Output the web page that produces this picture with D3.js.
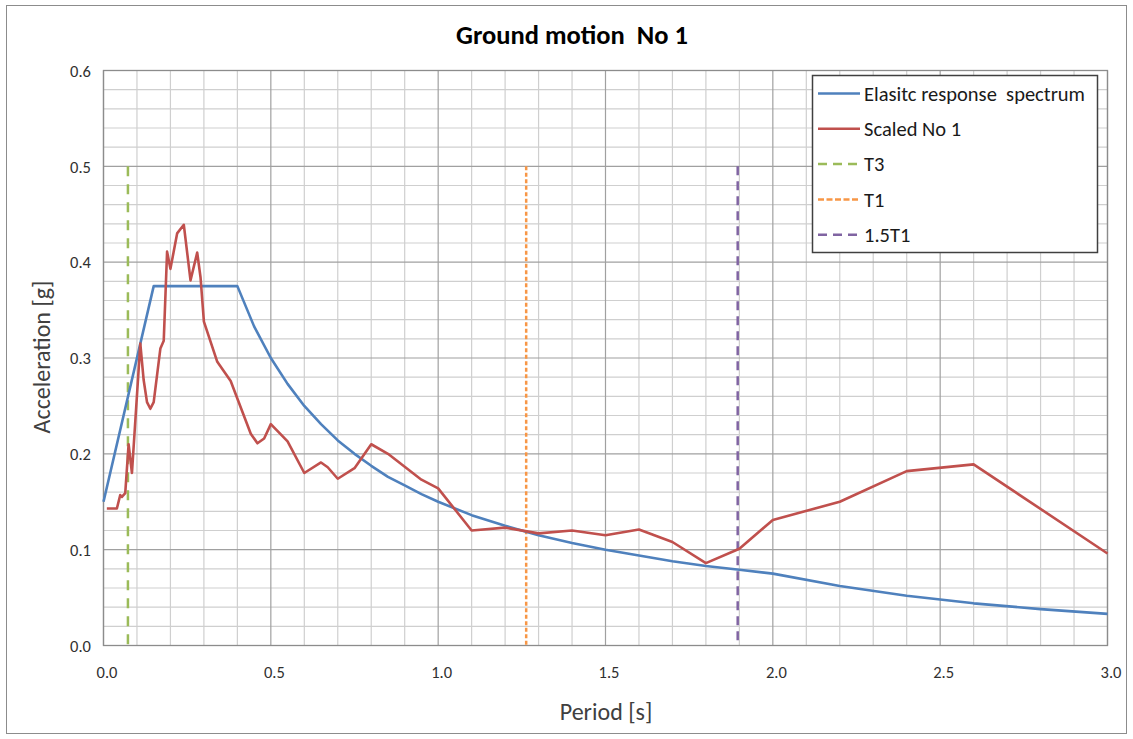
<!DOCTYPE html>
<html>
<head>
<meta charset="utf-8">
<script src="https://cdn.jsdelivr.net/npm/d3@7"></script>
<style>
  html, body { margin: 0; padding: 0; background: #fff; }
  svg { display: block; }
  text { font-family: Carlito, Calibri, Lato, sans-serif; white-space: pre; }
</style>
</head>
<body>
<svg id="chart" width="1133" height="739"></svg>
<script>
// Elastic design spectrum (period [s], acceleration [g])
const spectrumT = [0, 0.15, 0.4, 0.45, 0.5, 0.55, 0.6, 0.65, 0.7, 0.75, 0.8, 0.85, 0.9, 0.95, 1.0,
  1.1, 1.2, 1.3, 1.4, 1.5, 1.6, 1.7, 1.8, 1.9, 2.0, 2.2, 2.4, 2.6, 2.8, 3.0];
const spectrumA = [0.15, 0.375, 0.375, 0.333, 0.3, 0.273, 0.25, 0.231, 0.214, 0.2, 0.1875, 0.176, 0.167, 0.158, 0.15,
  0.136, 0.125, 0.115, 0.107, 0.1, 0.094, 0.088, 0.083, 0.079, 0.075, 0.062, 0.052, 0.044, 0.038, 0.033];

// Scaled record No 1 response spectrum
const scaledT = [0.01, 0.04, 0.05, 0.055, 0.065, 0.075, 0.085, 0.11, 0.12, 0.13, 0.14, 0.15, 0.17, 0.18,
  0.19, 0.20, 0.22, 0.24, 0.26, 0.28, 0.29, 0.30, 0.34, 0.38, 0.44, 0.46, 0.48, 0.50, 0.55, 0.60,
  0.65, 0.67, 0.70, 0.75, 0.80, 0.85, 0.95, 1.00, 1.10, 1.20, 1.30, 1.40, 1.50, 1.60, 1.70, 1.80,
  1.90, 2.00, 2.20, 2.40, 2.60, 3.00];
const scaledA = [0.143, 0.143, 0.157, 0.155, 0.159, 0.210, 0.180, 0.315, 0.277, 0.254, 0.247, 0.254, 0.310, 0.318,
  0.411, 0.393, 0.430, 0.439, 0.381, 0.410, 0.384, 0.338, 0.296, 0.276, 0.221, 0.211, 0.216, 0.231, 0.213, 0.180,
  0.191, 0.186, 0.174, 0.185, 0.210, 0.200, 0.173, 0.164, 0.120, 0.123, 0.117, 0.120, 0.115, 0.121, 0.108, 0.086,
  0.101, 0.131, 0.150, 0.182, 0.189, 0.096];

// Characteristic periods (vertical markers up to 0.5 g)
const markerNames = ["T3", "T1", "1.5T1"];
const markerT = [0.073, 1.263, 1.895];
const markerTop = 0.5;

const xTicks = [0, 0.5, 1.0, 1.5, 2.0, 2.5, 3.0];
const yTicks = [0, 0.1, 0.2, 0.3, 0.4, 0.5, 0.6];

const legendLabels = ["Elasitc response  spectrum", "Scaled No 1", "T3", "T1", "1.5T1"];

const svg = d3.select("#chart");
const plot = { left: 103.5, right: 1107.5, top: 70.5, bottom: 645.5 };

const x = d3.scaleLinear().domain([0, 3]).range([plot.left, plot.right]);
const y = d3.scaleLinear().domain([0, 0.6]).range([plot.bottom, plot.top]);

// outer chart frame
svg.append("rect")
  .attr("x", 6.5).attr("y", 5.5).attr("width", 1120).attr("height", 728)
  .attr("fill", "#fff").attr("stroke", "#8c8c8c").attr("stroke-width", 1);

// minor grid
const g = svg.append("g");
const minorX = d3.range(0, 31).map(i => i / 10).filter(v => Math.round(v * 10) % 5 !== 0);
const minorY = d3.range(0, 31).map(i => i / 50).filter(v => Math.round(v * 50) % 5 !== 0);
g.selectAll(".mx").data(minorX).join("line")
  .attr("x1", d => x(d)).attr("x2", d => x(d))
  .attr("y1", plot.top).attr("y2", plot.bottom)
  .attr("stroke", "#cfcfcf").attr("stroke-width", 1.2);
g.selectAll(".my").data(minorY).join("line")
  .attr("x1", plot.left).attr("x2", plot.right)
  .attr("y1", d => y(d)).attr("y2", d => y(d))
  .attr("stroke", "#cfcfcf").attr("stroke-width", 1.2);

// major grid
g.selectAll(".Mx").data(xTicks).join("line")
  .attr("x1", d => x(d)).attr("x2", d => x(d))
  .attr("y1", plot.top).attr("y2", plot.bottom)
  .attr("stroke", "#a0a0a0").attr("stroke-width", 1.2);
g.selectAll(".My").data(yTicks).join("line")
  .attr("x1", plot.left).attr("x2", plot.right)
  .attr("y1", d => y(d)).attr("y2", d => y(d))
  .attr("stroke", "#a0a0a0").attr("stroke-width", 1.2);

// plot frame
svg.append("rect")
  .attr("x", plot.left).attr("y", plot.top)
  .attr("width", plot.right - plot.left).attr("height", plot.bottom - plot.top)
  .attr("fill", "none").attr("stroke", "#8c8c8c").attr("stroke-width", 1.3);

// axes (labels only; grid carries the ticks)
const xAxis = d3.axisBottom(x).tickValues(xTicks).tickFormat(d3.format(".1f")).tickSize(0).tickPadding(0);
const yAxis = d3.axisLeft(y).tickValues(yTicks).tickFormat(d3.format(".1f")).tickSize(0).tickPadding(0);

const gx = svg.append("g").attr("transform", `translate(3,${plot.bottom})`).call(xAxis);
gx.select(".domain").remove();
gx.selectAll("text").attr("y", 27).attr("dy", "0.35em")
  .attr("font-size", 16.5).attr("fill", "#303030");

const gy = svg.append("g").attr("transform", `translate(91,0)`).call(yAxis);
gy.select(".domain").remove();
gy.selectAll("text").attr("x", 0).attr("dy", "0.35em")
  .attr("font-size", 16.5).attr("fill", "#303030");

// series colours and dash styles
const colors = ["#4f81bd", "#c0504d", "#9bbb59", "#f79646", "#8064a2"];
const dashes = [null, null, "10,8", "4,2.5", "9,6"];

const line = d3.line().x(d => x(d[0])).y(d => y(d[1]));

// vertical period markers
markerT.forEach((t, i) => {
  svg.append("line")
    .attr("x1", x(t)).attr("x2", x(t))
    .attr("y1", y(markerTop)).attr("y2", y(0))
    .attr("stroke", colors[i + 2]).attr("stroke-width", 2.5)
    .attr("stroke-dasharray", dashes[i + 2]);
});

svg.append("path")
  .datum(d3.zip(spectrumT, spectrumA))
  .attr("d", line)
  .attr("fill", "none").attr("stroke", colors[0]).attr("stroke-width", 2.6)
  .attr("stroke-linejoin", "round");

svg.append("path")
  .datum(d3.zip(scaledT, scaledA))
  .attr("d", line)
  .attr("fill", "none").attr("stroke", colors[1]).attr("stroke-width", 2.6)
  .attr("stroke-linejoin", "round");

// title and axis titles
svg.append("text")
  .attr("x", 572).attr("y", 44).attr("text-anchor", "middle")
  .attr("font-size", 26.5).attr("font-weight", "bold").attr("fill", "#000")
  .text("Ground motion  No 1");

svg.append("text")
  .attr("x", 606).attr("y", 720).attr("text-anchor", "middle")
  .attr("font-size", 24).attr("fill", "#404040")
  .text("Period [s]");

svg.append("text")
  .attr("transform", `translate(50,357) rotate(-90)`)
  .attr("text-anchor", "middle")
  .attr("font-size", 24).attr("fill", "#404040")
  .text("Acceleration [g]");

// legend
const lg = svg.append("g");
lg.append("rect")
  .attr("x", 812.5).attr("y", 75.5).attr("width", 285).attr("height", 177)
  .attr("fill", "#fff").attr("stroke", "#404040").attr("stroke-width", 1.5);

legendLabels.forEach((lab, i) => {
  const cy = 93.5 + i * 35.3;
  lg.append("line")
    .attr("x1", 818).attr("x2", 860).attr("y1", cy).attr("y2", cy)
    .attr("stroke", colors[i]).attr("stroke-width", 2.5)
    .attr("stroke-dasharray", i === 2 || i === 4 ? "9,6" : (i === 3 ? "6,2.5" : null));
  lg.append("text")
    .attr("x", 864).attr("y", cy).attr("dy", "0.35em")
    .attr("font-size", 20.5).attr("fill", "#1a1a1a")
    .text(lab);
});
</script>
</body>
</html>
